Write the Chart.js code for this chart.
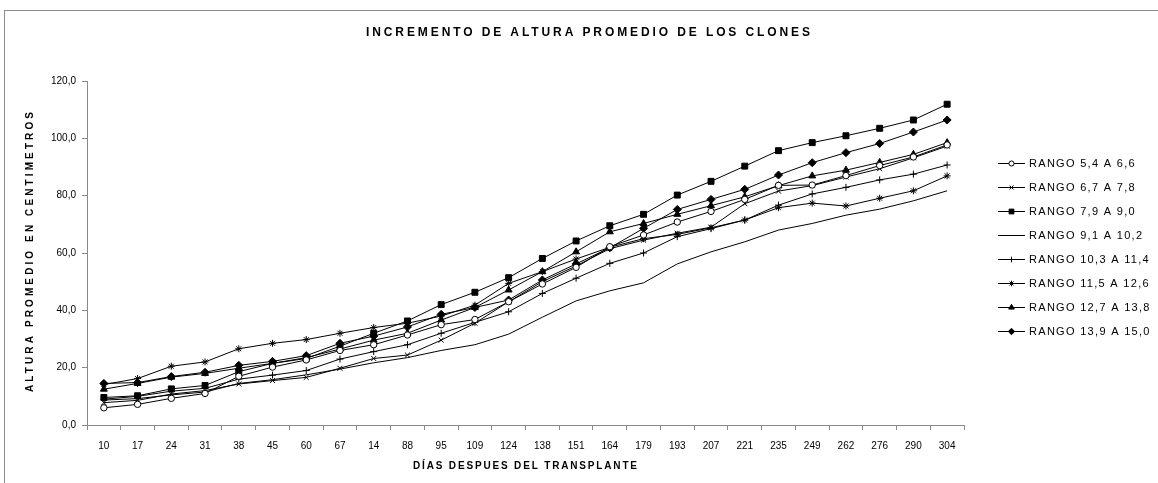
<!DOCTYPE html>
<html>
<head>
<meta charset="utf-8">
<script src="https://cdn.jsdelivr.net/npm/chart.js@4.4.1/dist/chart.umd.min.js"></script>
<style>
  html, body { margin: 0; padding: 0; background: #fff; }
  #wrap { width: 1158px; height: 483px; position: relative; }
</style>
</head>
<body>
<div id="wrap"><canvas id="dataChart"></canvas></div>
<script>
// ===== DATA =====
const dias = ["10", "17", "24", "31", "38", "45", "60", "67", "14", "88", "95", "109", "124",
  "138", "151", "164", "179", "193", "207", "221", "235", "249", "262", "276", "290", "304"];

const rango1 = [6.0, 7.2, 9.3, 11.0, 17.0, 20.2, 22.7, 26.0, 28.0, 31.4, 35.0, 36.8, 43.0,
  49.2, 55.0, 62.2, 66.3, 70.8, 74.5, 78.7, 83.6, 83.7, 87.0, 90.5, 93.5, 97.7]; // 5,4 A 6,6
const rango2 = [7.8, 8.6, 10.8, 12.0, 14.3, 15.5, 16.6, 19.8, 23.2, 24.4, 29.6, 35.5, 43.0,
  50.0, 55.5, 61.5, 64.5, 66.9, 69.0, 77.2, 81.6, 83.5, 86.5, 89.4, 93.2, 97.3]; // 6,7 A 7,8
const rango3 = [9.6, 10.2, 12.6, 13.8, 18.6, 21.5, 23.2, 27.5, 32.0, 36.3, 42.0, 46.3, 51.4,
  58.1, 64.2, 69.5, 73.5, 80.2, 85.0, 90.3, 95.7, 98.5, 100.9, 103.5, 106.4, 111.9]; // 7,9 A 9,0
const rango4 = [8.7, 9.2, 10.5, 11.5, 14.5, 15.8, 17.5, 19.5, 21.7, 23.5, 26.0, 28.0, 31.7,
  37.6, 43.3, 46.8, 49.6, 56.2, 60.4, 63.9, 68.0, 70.3, 73.2, 75.3, 78.2, 81.7]; // 9,1 A 10,2
const rango5 = [9.0, 10.0, 11.8, 12.8, 16.0, 17.4, 19.0, 23.0, 25.6, 28.0, 32.0, 35.8, 39.5,
  45.9, 51.2, 56.4, 60.0, 65.7, 68.5, 71.5, 76.7, 80.6, 82.9, 85.5, 87.5, 90.7]; // 10,3 A 11,4
const rango6 = [14.1, 16.2, 20.5, 22.0, 26.6, 28.5, 29.8, 32.0, 34.0, 35.5, 38.0, 41.8, 49.4,
  53.5, 57.9, 62.0, 65.0, 66.5, 68.8, 71.5, 75.8, 77.4, 76.4, 79.1, 81.7, 86.9]; // 11,5 A 12,6
const rango7 = [12.5, 14.5, 16.7, 18.0, 19.8, 21.5, 23.5, 26.5, 29.6, 32.0, 36.6, 41.0, 47.1,
  53.5, 60.4, 67.4, 70.3, 73.5, 76.5, 79.6, 83.5, 86.9, 88.9, 91.6, 94.4, 98.5]; // 12,7 A 13,8
const rango8 = [14.5, 14.8, 16.9, 18.4, 20.8, 22.2, 24.2, 28.5, 31.0, 34.2, 38.6, 41.0, 43.6,
  50.6, 56.2, 61.8, 68.6, 75.2, 78.7, 82.2, 87.2, 91.5, 95.0, 98.2, 102.2, 106.4]; // 13,9 A 15,0

const nombres = ["RANGO 5,4 A 6,6", "RANGO 6,7 A 7,8", "RANGO 7,9 A 9,0", "RANGO 9,1 A 10,2",
  "RANGO 10,3 A 11,4", "RANGO 11,5 A 12,6", "RANGO 12,7 A 13,8", "RANGO 13,9 A 15,0"];
const valores = [rango1, rango2, rango3, rango4, rango5, rango6, rango7, rango8];

// marker per series (Excel style)
const marcas = [
  { style: "circle", radius: 3.2, fill: "#fff" },
  { style: "crossRot", radius: 3.5, fill: "#000" },
  { style: "rect", radius: 4.2, fill: "#000" },
  { style: false, radius: 0, fill: "#000" },
  { style: "cross", radius: 3.5, fill: "#000" },
  { style: "star", radius: 3.5, fill: "#000" },
  { style: "triangle", radius: 4, fill: "#000" },
  { style: "rectRot", radius: 4, fill: "#000" },
];

const AXIS_GRAY = "#898989";
const FONT = "'Liberation Sans', Arial, sans-serif";

// draw text spread out to fill a given width (Excel's stretched labels)
function spacedText(ctx, text, x, y, width) {
  ctx.letterSpacing = "0px";
  const w = ctx.measureText(text).width;
  const gap = Math.max(0, (width - w) / (text.length - 1));
  ctx.letterSpacing = gap + "px";
  ctx.textAlign = "left";
  ctx.fillText(text, x - width / 2, y);
  ctx.letterSpacing = "0px";
}

// ===== extras: frame, titles, legend =====
const extras = {
  id: "extras",
  afterDraw(chart) {
    const ctx = chart.ctx;
    ctx.save();

    // outer frame (only top and left visible)
    ctx.strokeStyle = "#8c8c8c";
    ctx.lineWidth = 1;
    ctx.strokeRect(4.5, 10.5, 3000, 3000);

    ctx.fillStyle = "#000";
    ctx.textBaseline = "middle";

    // main title
    ctx.font = "bold 12px " + FONT;
    spacedText(ctx, "INCREMENTO DE ALTURA PROMEDIO DE LOS CLONES", 588, 33, 444);

    // x title
    ctx.font = "bold 10px " + FONT;
    spacedText(ctx, "DÍAS DESPUES DEL TRANSPLANTE", 525, 466, 224);

    // y title
    ctx.save();
    ctx.translate(30, 252);
    ctx.rotate(-Math.PI / 2);
    ctx.font = "bold 10px " + FONT;
    spacedText(ctx, "ALTURA PROMEDIO EN CENTIMETROS", 0, 0, 280);
    ctx.restore();

    // legend
    ctx.font = "11px " + FONT;
    nombres.forEach((name, i) => {
      const y = 163.5 + i * 24;
      ctx.strokeStyle = "#000";
      ctx.lineWidth = 1;
      ctx.beginPath();
      ctx.moveTo(998, y);
      ctx.lineTo(1025, y);
      ctx.stroke();
      const m = marcas[i];
      if (m.style) {
        ctx.fillStyle = m.fill;
        ctx.strokeStyle = "#000";
        Chart.helpers.drawPoint(ctx, { pointStyle: m.style, radius: m.radius * 0.8, borderWidth: 1 }, 1011.5, y);
      }
      ctx.fillStyle = "#000";
      ctx.letterSpacing = "1.3px";
      ctx.textAlign = "left";
      ctx.fillText(name, 1029, y);
      ctx.letterSpacing = "0px";
    });

    ctx.restore();
  },
};

const datasets = valores.map((vals, i) => ({
  label: nombres[i],
  data: vals,
  borderColor: "#000",
  borderWidth: 1,
  backgroundColor: marcas[i].fill,
  pointStyle: marcas[i].style,
  pointRadius: marcas[i].radius,
  pointBackgroundColor: marcas[i].fill,
  pointBorderColor: "#000",
  pointBorderWidth: 1,
  tension: 0,
  fill: false,
}));

const ctx = document.getElementById("dataChart");
const chart = new Chart(ctx, {
  type: "line",
  data: { labels: dias, datasets: datasets },
  options: {
    responsive: true,
    maintainAspectRatio: false,
    animation: false,
    layout: { padding: { left: 0, right: 194, top: 81, bottom: 0 } },
    plugins: {
      legend: { display: false },
      title: { display: false },
      tooltip: { enabled: false },
    },
    scales: {
      x: {
        offset: true,
        grid: {
          offset: true,
          drawOnChartArea: false,
          tickLength: 5,
          color: AXIS_GRAY,
        },
        border: { color: AXIS_GRAY },
        ticks: {
          color: "#000",
          font: { family: FONT, size: 10 },
          padding: 10,
          maxRotation: 0,
          autoSkip: false,
        },
        afterFit: (s) => { s.height = 58; },
      },
      y: {
        min: 0,
        max: 120,
        grid: {
          drawOnChartArea: false,
          tickLength: 5,
          color: AXIS_GRAY,
        },
        border: { color: AXIS_GRAY },
        ticks: {
          stepSize: 20,
          color: "#000",
          font: { family: FONT, size: 10 },
          padding: 6,
          callback: (v) => v.toFixed(1).replace(".", ","),
        },
        afterFit: (s) => { s.width = 87; },
      },
    },
  },
  plugins: [extras],
});
</script>
</body>
</html>
